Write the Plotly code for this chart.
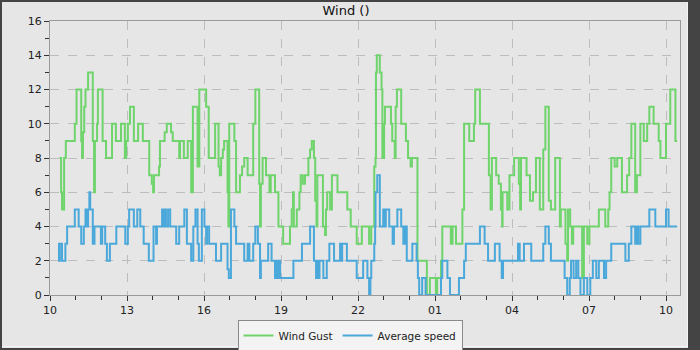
import datetime as dt
import plotly.graph_objects as go

# ---- data: step readings (local time, one full day from 10:00) ----
gust_times = ["10:22","10:26","10:28","10:33","10:37","10:58","11:02","11:13","11:15","11:17","11:20","11:23","11:29","11:40","11:43","11:45","11:50","11:52","12:03","12:11","12:25","12:34","12:46","12:55","12:58","13:02","13:07","13:16","13:26","13:37","13:52","13:58","14:01","14:03","14:15","14:17","14:28","14:33","14:43","14:47","15:02","15:04","15:13","15:22","15:30","15:34","15:45","15:49","16:05","16:11","16:26","16:34","16:37","16:40","16:44","16:47","16:55","16:57","16:59","17:11","17:15","17:24","17:29","17:34","17:42","17:55","18:00","18:09","18:11","18:13","18:17","18:25","18:33","18:36","18:46","18:54","19:05","19:21","19:25","19:28","19:30","19:37","19:43","19:46","19:51","19:56","20:04","20:08","20:12","20:17","20:20","20:23","20:25","20:38","20:43","20:45","20:48","20:55","20:59","21:12","21:35","21:43","21:57","22:09","22:26","22:31","22:38","22:41","22:42","22:44","22:51","22:55","22:57","23:01","23:03","23:17","23:20","23:26","23:28","23:31","23:41","23:52","23:57","00:03","00:06","00:19","00:41","00:48","01:02","01:05","01:14","01:17","01:37","01:41","01:49","02:04","02:08","02:20","02:31","02:34","02:45","03:06","03:10","03:13","03:23","03:29","03:34","03:37","03:38","03:49","03:54","04:05","04:16","04:19","04:21","04:34","04:42","04:49","04:56","05:05","05:13","05:18","05:26","05:31","05:41","05:52","05:54","06:05","06:09","06:11","06:16","06:20","06:23","06:44","06:48","06:56","07:01","07:23","07:38","07:45","07:48","07:52","08:00","08:06","08:17","08:29","08:34","08:39","08:48","08:52","09:00","09:08","09:16","09:21","09:31","09:43","09:47","10:00","10:10","10:22","10:26"]
gust_values = [8,6,5,8,9,10,12,9,8,9.5,11,12,13,9,6,9,10,12,9,8,10,9,10,8,9,10,11,9,10,9,7,6.5,6,7,7.5,9,9.5,10,9.5,9,8,9,8,9,6,11,7.5,12,11,8,10,7.5,7,8,8.5,9,6,4,10,9,6,7,7.5,8,7,10,12,6.5,4,6.5,8,7,6,7,6,4,3,4,5,6,4,5,6,7,6.5,7,8,8.5,9,8,5.5,4,7,4,3.5,5,6,5,7,6,5,4,3,4,3,4,7.5,8,13,14,13,12,8,10,11,10,9,8,11,12,10,9,8,7.5,8,2,0,1,0,1,2,4,3,4,3,5,10,9,10,12,10,7,5,8,7,6.5,5,4,6,5,7,8,6.5,5,8,7,5.5,6,8,5,8.5,11,5.5,5,8,4,5,3,2,5,4,3,4,1,4,3,4,5,4,5,6,8,7.5,8,6,7,8,10,6,7,10,9,10,11,10,9,8,10,12,9,9]

avg_times = ["10:19","10:21","10:23","10:28","10:36","10:40","10:58","11:07","11:13","11:19","11:23","11:27","11:29","11:32","11:34","11:40","11:44","11:59","12:02","12:09","12:13","12:20","12:35","12:56","13:02","13:05","13:16","13:24","13:31","13:39","13:51","14:02","14:08","14:10","14:22","14:24","14:27","14:31","14:36","14:41","14:55","15:02","15:14","15:20","15:30","15:35","15:40","15:45","15:48","15:55","16:01","16:05","16:07","16:12","16:28","16:40","16:55","16:58","17:03","17:11","17:15","17:34","17:42","17:46","17:55","18:00","18:06","18:11","18:13","18:30","18:38","18:46","18:48","18:51","18:55","18:58","19:29","19:49","20:08","20:17","20:22","20:24","20:27","20:30","20:39","20:47","20:53","21:04","21:18","21:20","21:23","21:34","21:57","22:12","22:22","22:26","22:29","22:31","22:38","22:40","22:41","22:45","22:51","22:59","23:03","23:05","23:13","23:21","23:24","23:32","23:41","23:46","23:50","23:54","00:07","00:17","00:20","00:23","00:30","00:38","01:14","01:17","01:29","01:35","01:56","02:08","02:12","02:45","02:56","03:04","03:20","03:31","03:36","03:39","04:14","04:18","04:28","04:45","05:13","05:18","05:26","05:31","06:03","06:09","06:15","06:18","06:24","06:30","06:35","06:40","06:48","06:56","07:03","07:09","07:17","07:23","07:35","07:40","07:52","08:25","08:33","08:39","08:48","08:52","08:55","09:00","09:21","09:35","10:00","10:06","10:26"]
avg_values = [3,2,3,2,3,4,5,4,3,4,5,4,5,6,5,3,4,3,4,3,2,3,4,3,4,5,4,5,4,3,2,4,3,4,5,4,5,4,5,4,3,4,5,3,2,4,5,3,2,5,4,3,4,3,2,3,1.5,1,5,4,3,2,3,2,3,4,3,1,2,3,2,1,2,1,2,1,2,3,4,2,1,2,1,2,1,2,3,2,3,2,3,2,1,2,1,0,1,2,3,4,6,7,4,5,4,5,4,3,4,5,4,3,4,2,3,2,1,0,1,0,1,2,1,0,1,2,3,4,3,2,3,2,1,2,3,2,3,2,3,4,3,2,1,0,1,2,1,2,1,0,1,0,1,2,1,2,1,2,3,2,3,4,3,4,3,4,5,4,5,4,4]

series_names = ["Wind Gust", "Average speed"]
series_colors = ["#6fd46b", "#4aa8da"]
chart_title = "Wind ()"

START = dt.datetime(2024, 5, 10, 10, 0)
END = START + dt.timedelta(hours=24, minutes=32, seconds=43)


def to_datetimes(times):
    """Turn HH:MM strings into datetimes, rolling over at midnight."""
    out, day, prev = [], 0, None
    for t in times:
        h, m = map(int, t.split(":"))
        mins = h * 60 + m
        if prev is not None and mins < prev:
            day += 1
        prev = mins
        out.append(dt.datetime(START.year, START.month, START.day + day, h, m))
    return out


W, H = 700, 350
ML, MR, MT, MB = 50, 20, 21, 55
PW, PH = W - ML - MR, H - MT - MB


def px(x):
    return (x - ML) / PW


def py(y):
    return (H - MB - y) / PH


fig = go.Figure()
for times, vals, name, color in [
    (gust_times, gust_values, series_names[0], series_colors[0]),
    (avg_times, avg_values, series_names[1], series_colors[1]),
]:
    fig.add_trace(go.Scatter(
        x=to_datetimes(times), y=vals, name=name, mode="lines",
        line=dict(color=color, width=2, shape="hv"),
    ))

axis_common = dict(
    showline=True, linecolor="#9a9a9a", linewidth=1, mirror=True,
    showgrid=True, gridcolor="#bdbdbd", griddash="dash", gridwidth=1,
    ticks="outside", ticklen=5, tickcolor="#333333",
    tickfont=dict(family="DejaVu Sans", size=11, color="#222222"),
    zeroline=False,
)

fig.update_xaxes(
    type="date", range=[START, END],
    tick0=START, dtick=3 * 3600 * 1000, tickformat="%H",
    minor=dict(dtick=3600 * 1000, ticks="outside", ticklen=4,
               tickcolor="#333333", showgrid=False),
    **axis_common,
)
fig.update_yaxes(
    range=[0, 16], dtick=2, tick0=0,
    minor=dict(dtick=1, ticks="outside", ticklen=4,
               tickcolor="#333333", showgrid=False),
    **axis_common,
)

# outer frame: dark border with a thin light bevel on the inside
frame = [
    dict(type="rect", xref="paper", yref="paper",
         x0=px(688), x1=px(700), y0=py(350), y1=py(0),
         fillcolor="#444444", line=dict(width=0), layer="above"),
    dict(type="rect", xref="paper", yref="paper",
         x0=px(1), x1=px(689), y0=py(349), y1=py(1),
         fillcolor="rgba(0,0,0,0)", line=dict(color="#444444", width=2),
         layer="above"),
    dict(type="path", xref="paper", yref="paper",
         path=f"M {px(2)},{py(346.5)} L {px(687.5)},{py(346.5)} L {px(687.5)},{py(2)}",
         line=dict(color="#f4f4f4", width=1), layer="above"),
]

fig.update_layout(
    width=W, height=H,
    margin=dict(l=ML, r=MR, t=MT, b=MB, autoexpand=False),
    paper_bgcolor="#e6e6e6", plot_bgcolor="#e6e6e6",
    font=dict(family="DejaVu Sans", size=11, color="#222222"),
    title=dict(text=chart_title, xref="container", yref="container",
               x=346 / W, xanchor="center", y=1 - 10 / H, yanchor="middle",
               font=dict(family="DejaVu Sans", size=13, color="#111111")),
    legend=dict(orientation="h", xref="paper", yref="paper",
                x=0.5 - 15 / PW, xanchor="center", y=py(320), yanchor="top",
                bgcolor="#f3f3f3", bordercolor="#8a8a8a", borderwidth=1,
                font=dict(family="DejaVu Sans", size=10.5, color="#222222"),
                itemwidth=30, tracegroupgap=0),
    shapes=frame,
    showlegend=True,
)

fig.write_html("out.html")
